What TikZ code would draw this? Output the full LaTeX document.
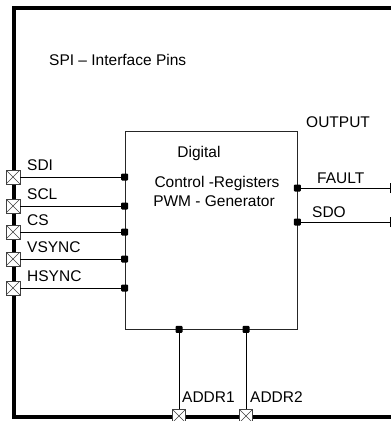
\documentclass[tikz,border=0pt]{standalone}
\usepackage{fontspec}
\setmainfont{Liberation Sans}
\begin{document}
\begin{tikzpicture}[x=1pt,y=-1pt,
  lbl/.style={anchor=base west,inner sep=0pt,font=\fontsize{15.5}{18}\selectfont},
  ctr/.style={anchor=base,inner sep=0pt,font=\fontsize{15.5}{18}\selectfont},
  frame/.style={line width=4pt},
  wire/.style={line width=0.8pt},
  pinbox/.style={draw=black!75,fill=white,line width=0.6pt,minimum size=14pt,inner sep=0pt,
    path picture={\draw[line width=0.5pt,black!75] (path picture bounding box.north west) -- (path picture bounding box.south east)
      (path picture bounding box.north east) -- (path picture bounding box.south west);}},
  dot/.style={fill=black,minimum size=7pt,inner sep=0pt,rounded corners=1pt},
  digbox/.style={draw=black!85,line width=0.8pt,minimum width=172pt,minimum height=198pt,inner sep=0pt}
]
\useasboundingbox (0,0) rectangle (391,421);
% outer frame
\draw[frame] (393,8) -- (14,8) -- (14,417) -- (393,417);
% digital block
\node[digbox] (dig) at (211,230) {};
\node[ctr] (t1) at (199,157) {Digital};
\node[ctr] (t2) at (217,187) {Control -Registers};
\node[ctr] (t3) at (214,206) {PWM - Generator};
\node[lbl] (spi) at (49,65) {SPI – Interface Pins};
\node[lbl] (out) at (306,127) {OUTPUT};
% left pins
\foreach \n/\y/\t in {1/177/SDI,2/206/SCL,3/232/CS,4/259/VSYNC,5/288/HSYNC}{
  \node[pinbox] (p\n) at (13,\y) {};
  \node[dot] (d\n) at (p\n.east -| dig.west) {};
  \draw[wire] (p\n.east) -- (d\n);
  \node[lbl] (l\n) at (27,\y-7) {\t};
}
% bottom pins
\node[pinbox,minimum size=13pt] (a1) at (179,416) {};
\node[pinbox,minimum size=13pt] (a2) at (246,416) {};
\node[dot] (da1) at (a1.north |- dig.south) {};
\node[dot] (da2) at (a2.north |- dig.south) {};
\draw[wire] (da1) -- (a1.north);
\draw[wire] (da2) -- (a2.north);
\node[lbl] (la1) at (182,402) {ADDR1};
\node[lbl] (la2) at (250,402) {ADDR2};
% right outputs
\coordinate (f) at (390,188);
\coordinate (s) at (390,222);
\node[dot] (df) at (f -| dig.east) {};
\node[dot] (ds) at (s -| dig.east) {};
\draw[wire] (df) -- (f);
\draw[wire] (ds) -- (s);
\draw[wire] ([yshift=-5pt]f) -- ([yshift=5pt]f);
\draw[wire] ([yshift=-5pt]s) -- ([yshift=5pt]s);
\node[lbl] (lf) at (317,183) {FAULT};
\node[lbl] (ls) at (312,217) {SDO};
\end{tikzpicture}
\end{document}
